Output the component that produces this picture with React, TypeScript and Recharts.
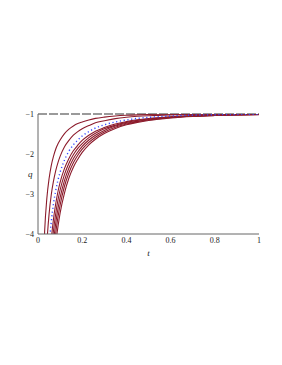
import React from "react";
import { LineChart, Line, XAxis, YAxis, ReferenceLine } from "recharts";

const T = [0.02, 0.03, 0.04, 0.05, 0.06, 0.07, 0.08, 0.09, 0.1, 0.12, 0.14, 0.16, 0.18, 0.2, 0.23, 0.26, 0.3, 0.35, 0.4, 0.45, 0.5, 0.6, 0.7, 0.8, 0.9, 1.0];

const C1 = [-5.6, -3.94, -3.11, -2.62, -2.29, -2.06, -1.88, -1.75, -1.65, -1.49, -1.38, -1.3, -1.24, -1.2, -1.15, -1.11, -1.077, -1.049, -1.032, -1.021, -1.014, -1.006, -1.003, -1.001, -1.0, -1.0];
const C2 = [null, -5.47, -4.25, -3.51, -3.02, -2.68, -2.42, -2.22, -2.06, -1.82, -1.66, -1.53, -1.44, -1.37, -1.29, -1.22, -1.17, -1.115, -1.081, -1.058, -1.042, -1.022, -1.011, -1.006, -1.003, -1.002];
const BLUE = [null, null, -5.27, -4.33, -3.7, -3.25, -2.92, -2.66, -2.46, -2.15, -1.93, -1.77, -1.65, -1.55, -1.44, -1.35, -1.27, -1.2, -1.15, -1.11, -1.085, -1.05, -1.029, -1.018, -1.011, -1.006];
const B1 = [null, null, -5.95, -4.87, -4.15, -3.63, -3.25, -2.95, -2.71, -2.36, -2.11, -1.92, -1.78, -1.66, -1.53, -1.43, -1.34, -1.25, -1.19, -1.144, -1.111, -1.068, -1.042, -1.026, -1.016, -1.01];
const B2 = [null, null, null, -5.29, -4.49, -3.92, -3.5, -3.16, -2.9, -2.51, -2.23, -2.02, -1.86, -1.74, -1.59, -1.48, -1.37, -1.28, -1.21, -1.16, -1.124, -1.075, -1.046, -1.029, -1.018, -1.011];
const B3 = [null, null, null, -5.72, -4.84, -4.21, -3.74, -3.38, -3.09, -2.66, -2.35, -2.12, -1.95, -1.81, -1.65, -1.53, -1.41, -1.3, -1.23, -1.18, -1.136, -1.082, -1.051, -1.032, -1.02, -1.012];
const B4 = [null, null, null, -6.14, -5.19, -4.5, -3.99, -3.59, -3.28, -2.8, -2.47, -2.22, -2.03, -1.88, -1.71, -1.58, -1.45, -1.33, -1.25, -1.19, -1.148, -1.09, -1.055, -1.034, -1.022, -1.014];
const B5 = [null, null, null, null, -5.56, -4.82, -4.26, -3.83, -3.48, -2.97, -2.6, -2.33, -2.13, -1.96, -1.77, -1.63, -1.49, -1.36, -1.27, -1.21, -1.162, -1.098, -1.06, -1.038, -1.023, -1.015];

const X_TICKS = [0, 0.2, 0.4, 0.6, 0.8, 1];
const Y_TICKS = [-4, -3, -2, -1];

const RED_SERIES: [string, (number | null)[]][] = [
  ["c1", C1],
  ["c2", C2],
  ["b1", B1],
  ["b2", B2],
  ["b3", B3],
  ["b4", B4],
  ["b5", B5],
];

const data = T.map((t, i) => {
  const row: Record<string, number | null> = { t, blue: BLUE[i] };
  RED_SERIES.forEach(([k, arr]) => {
    row[k] = arr[i];
  });
  return row;
});

const FONT = "'Liberation Serif', 'DejaVu Serif', serif";
const RED = "#8c1c2c";
const FRAME = "#666";

const fmtY = (v: number) => (v < 0 ? "\u2212" + Math.abs(v) : String(v));

export default function App() {
  return (
    <div style={{ width: 266, height: 260 }}>
      <LineChart
        width={266}
        height={260}
        data={data}
        margin={{ top: 106, right: 15, left: 0, bottom: 10 }}
      >
        <XAxis
          xAxisId="b"
          dataKey="t"
          type="number"
          domain={[0, 1]}
          ticks={X_TICKS}
          tickLine={false}
          tickSize={0}
          tickMargin={3}
          height={24}
          axisLine={{ stroke: FRAME, strokeWidth: 1 }}
          tick={{ fontSize: 8, fill: "#222", fontFamily: FONT }}
          label={{ value: "t", position: "insideBottom", offset: 2, fontSize: 9, fontStyle: "italic", fill: "#222", fontFamily: FONT }}
        />
        <XAxis
          xAxisId="top"
          dataKey="t"
          type="number"
          domain={[0, 1]}
          orientation="top"
          height={0}
          tick={false}
          tickLine={false}
          axisLine={{ stroke: FRAME, strokeWidth: 1 }}
        />
        <YAxis
          yAxisId="l"
          type="number"
          domain={[-4, -1]}
          ticks={Y_TICKS}
          allowDataOverflow
          width={30}
          tickLine={false}
          tickSize={0}
          tickMargin={4}
          tickFormatter={fmtY}
          axisLine={{ stroke: FRAME, strokeWidth: 1 }}
          tick={{ fontSize: 8, fill: "#222", fontFamily: FONT }}
          label={{ value: "q", position: "insideLeft", offset: 20, fontSize: 9, fontStyle: "italic", fill: "#222", fontFamily: FONT }}
        />
        <YAxis
          yAxisId="r"
          orientation="right"
          type="number"
          domain={[-4, -1]}
          width={0}
          tick={false}
          tickLine={false}
          axisLine={{ stroke: FRAME, strokeWidth: 1 }}
        />
        <ReferenceLine
          xAxisId="b"
          yAxisId="l"
          y={-1}
          stroke="#9a9a9a"
          strokeWidth={2.2}
          strokeDasharray="9 2"
        />
        {RED_SERIES.map(([k]) => (
          <Line
            key={k}
            xAxisId="b"
            yAxisId="l"
            dataKey={k}
            type="monotone"
            stroke={RED}
            strokeWidth={1.1}
            dot={false}
            activeDot={false}
            isAnimationActive={false}
          />
        ))}
        <Line
          xAxisId="b"
          yAxisId="l"
          dataKey="blue"
          type="monotone"
          stroke="#3548ff"
          strokeWidth={1.4}
          strokeDasharray="1.2 2.6"
          dot={false}
          activeDot={false}
          isAnimationActive={false}
        />
      </LineChart>
    </div>
  );
}
